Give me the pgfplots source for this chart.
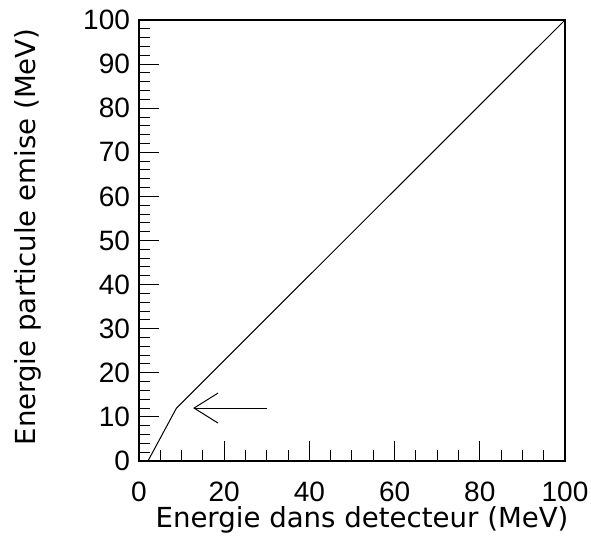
\documentclass[border=0pt]{standalone}
\usepackage{fontspec}
\setmainfont{Liberation Sans}
\newfontfamily\labelfont{DejaVu Sans}
\usepackage{pgfplots}
\pgfplotsset{compat=1.18}
\usetikzlibrary{arrows.meta}
\begin{document}
\begin{tikzpicture}
\begin{axis}[
  scale only axis,
  width=213pt, height=220.5pt,
  xmin=0, xmax=100, ymin=0, ymax=100,
  xtick={0,20,...,100}, ytick={0,10,...,100},
  minor x tick num=3, minor y tick num=4,
  tick align=inside, xtick pos=bottom, ytick pos=left,
  major tick length=10pt, minor tick length=5.5pt,
  every tick/.style={black, line width=0.5pt},
  axis line style={line width=0.7pt},
  /pgf/number format/assume math mode=true,
  tick label style={font=\fontsize{14}{16}\selectfont},
  label style={font=\labelfont\fontsize{13.8}{16}\selectfont},
  xticklabel style={yshift=-7pt},
  yticklabel style={xshift=-1pt},
  xlabel={Energie dans detecteur (MeV)},
  ylabel={Energie particule emise (MeV)},
  xlabel style={at={(axis description cs:0.5235,-0.1338)}, anchor=center},
  ylabel style={at={(axis description cs:-0.2606,0.508)}, anchor=center},
]
\addplot[black, line width=0.5pt] coordinates {(2.1,0) (8.8,12) (100,100)};
\addplot[black, line width=0.5pt, -{Straight Barb[length=12pt,width=15pt]}] coordinates {(30,12) (12.7,12)};
\end{axis}
\pgfresetboundingbox
\path (-69.5pt,-42pt) rectangle (226pt,230.5pt);
\end{tikzpicture}
\end{document}
